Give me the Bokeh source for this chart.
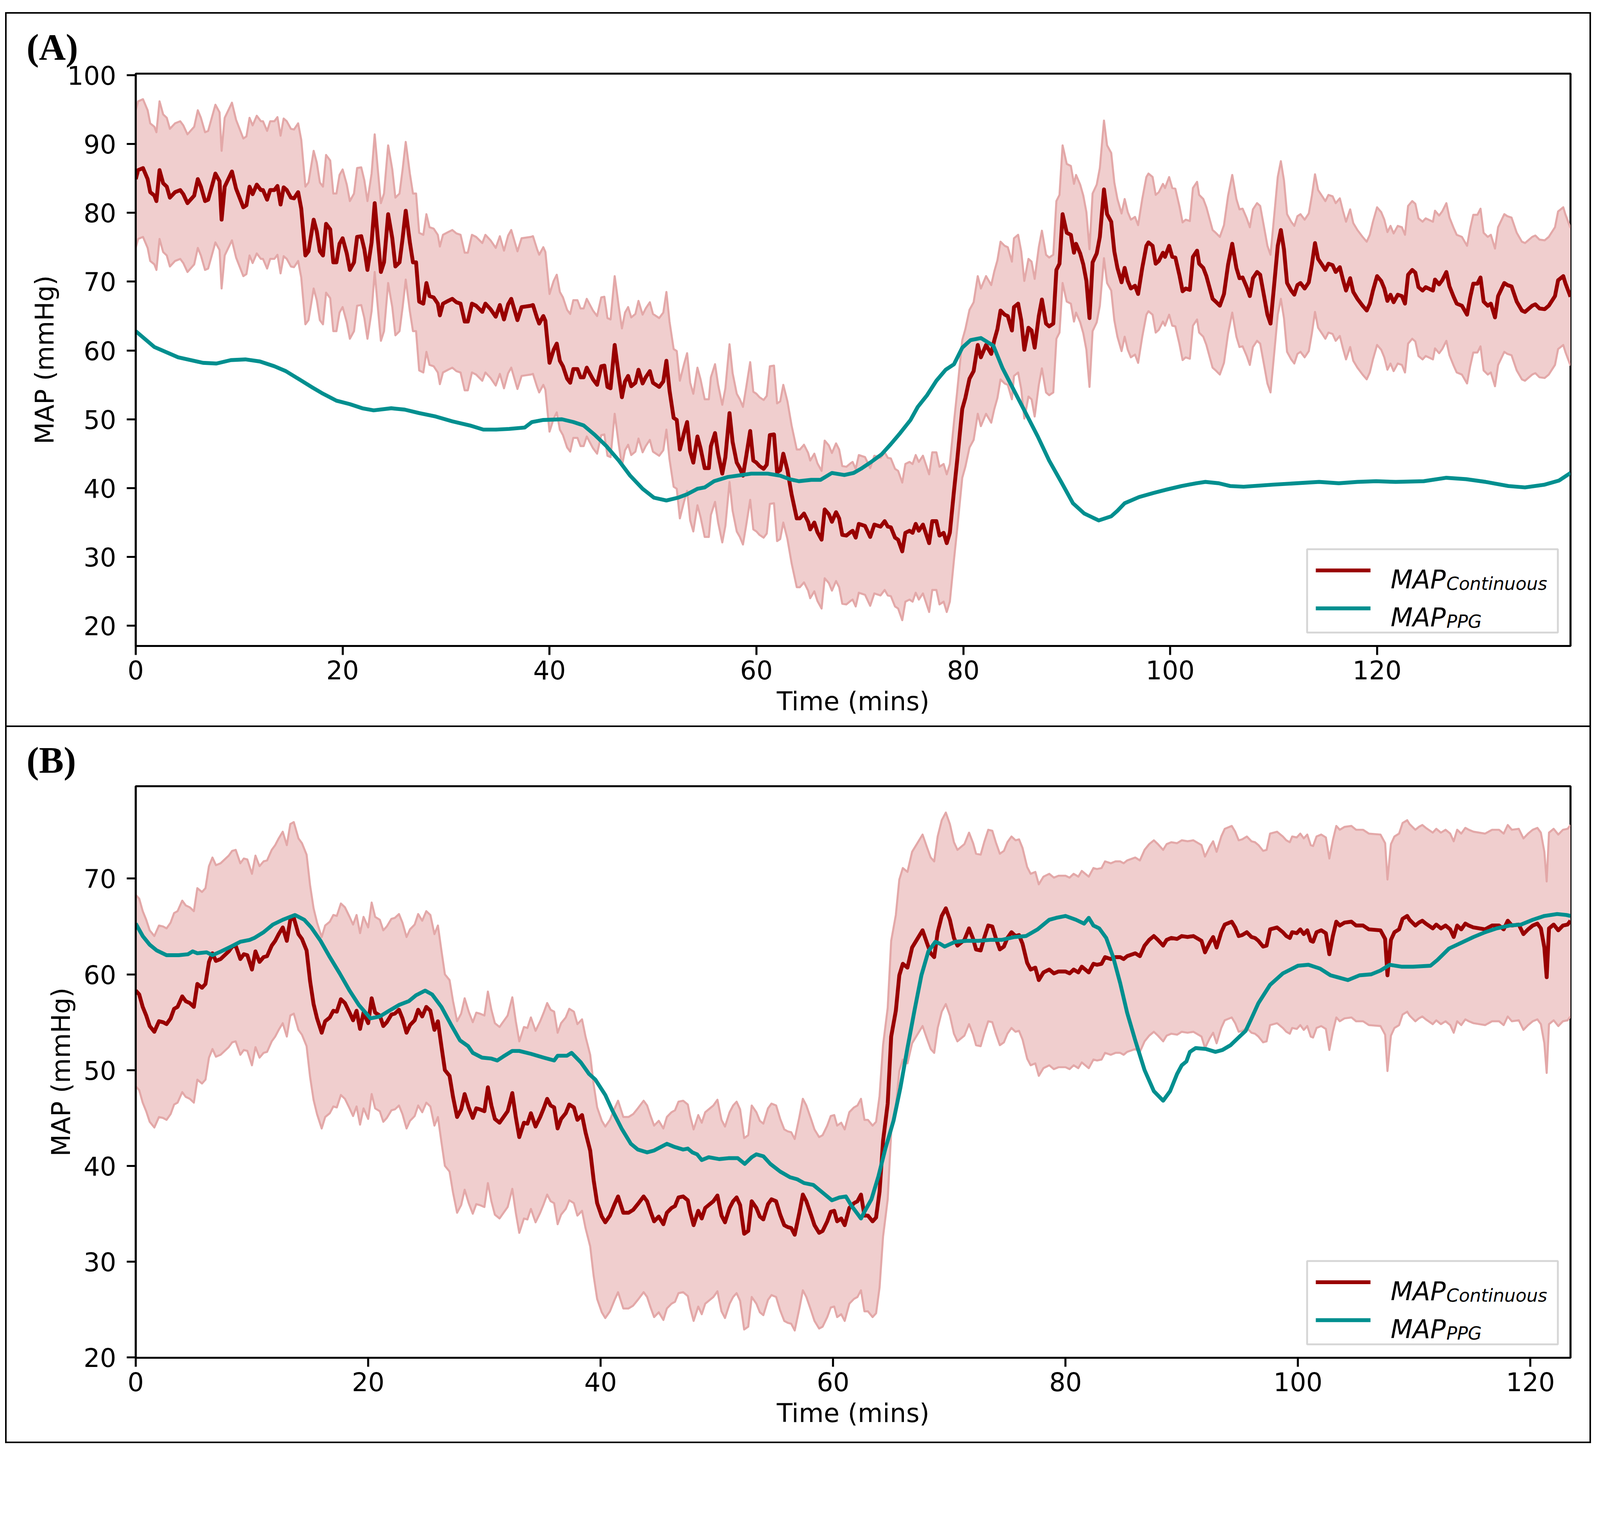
import numpy as np
from bokeh.plotting import figure
from bokeh.models import Range1d, FixedTicker, Div
from bokeh.core.properties import value
from bokeh.layouts import column
from bokeh.embed import file_html
from bokeh.resources import INLINE

# ---------------- data ----------------
# Panel A: continuous MAP
a_cont_t = [0, 0.23, 0.7, 1.15, 1.4, 1.8, 2.0, 2.3, 2.65, 3.0, 3.3, 3.8, 4.3, 4.6, 5.0, 5.65, 6.0, 6.3, 6.7, 7.0,
            7.7, 8.1, 8.3, 8.6, 9.3, 9.7, 10.4, 10.7, 11.0, 11.3, 11.7, 12.1, 12.3, 12.7, 13.0, 13.4, 13.7, 14.0,
            14.3, 14.6, 15.0, 15.3, 15.7, 16.0, 16.4, 16.7, 17.2, 17.5, 17.8, 18.1, 18.4, 18.8, 19.1, 19.4, 19.7,
            20.0, 20.4, 20.7, 21.1, 21.4, 21.8, 22.1, 22.4, 22.8, 23.1, 23.4, 23.7, 24.0, 24.4, 24.8, 25.1, 25.5,
            25.8, 26.1, 26.5, 26.8, 27.1, 27.4, 27.8, 28.1, 28.4, 28.8, 29.2, 29.4, 29.7, 30.2, 30.6, 31.0, 31.4,
            31.8, 32.1, 32.5, 32.9, 33.5, 33.8, 34.3, 34.8, 35.2, 35.6, 36.0, 36.3, 36.9, 37.3, 38.2, 38.4, 38.8,
            39.0, 39.4, 39.6, 40.0, 40.4, 40.7, 41.0, 41.3, 41.7, 42.0, 42.3, 42.7, 43.0, 43.3, 43.6, 44.2, 44.6,
            45.0, 45.3, 45.6, 45.9, 46.3, 46.7, 47.0, 47.3, 47.6, 47.9, 48.3, 48.6, 49.0, 49.3, 49.7, 50.0, 50.6,
            51.0, 51.3, 51.6, 52.0, 52.3, 52.6, 53.0, 53.3, 53.6, 53.9, 54.3, 54.6, 55.0, 55.4, 55.6, 56.0, 56.3,
            56.7, 57.0, 57.4, 57.7, 58.1, 58.4, 58.7, 59.0, 59.4, 59.7, 60.0, 60.3, 60.7, 61.0, 61.3, 61.7, 62.0,
            62.3, 62.6, 63.0, 63.4, 63.9, 64.2, 64.6, 65.0, 65.2, 65.6, 65.9, 66.3, 66.6, 67.0, 67.3, 67.7, 68.0,
            68.3, 68.7, 69.1, 69.3, 69.6, 69.9, 70.1, 70.5, 71.0, 71.4, 72.0, 72.4, 72.7, 73.0, 73.4, 73.7, 74.1,
            74.4, 74.8, 75.1, 75.4, 75.7, 76.1, 76.7, 77.0, 77.4, 77.7, 78.1, 78.4, 78.7, 79.1, 79.4, 79.9, 80.2,
            80.6, 81.0, 81.4, 81.7, 82.2, 82.7, 83.0, 83.3, 83.6, 84.0, 84.3, 84.7, 84.9, 85.3, 85.6, 85.9, 86.3,
            86.6, 86.9, 87.3, 87.6, 88.0, 88.3, 88.7, 89.0, 89.3, 89.6, 90.0, 90.4, 90.7, 90.9, 91.3, 91.6, 91.9,
            92.2, 92.5, 92.9, 93.2, 93.6, 93.9, 94.3, 94.6, 94.9, 95.3, 95.6, 95.9, 96.2, 96.6, 96.9, 97.3, 97.7,
            97.9, 98.3, 98.6, 98.9, 99.3, 99.5, 99.9, 100.2, 100.5, 100.9, 101.2, 101.5, 101.9, 102.2, 102.6,
            102.8, 103.2, 103.5, 104.1, 104.4, 104.8, 105.2, 105.6, 106.0, 106.4, 106.7, 107.0, 107.4, 107.7,
            108.0, 108.4, 108.7, 109.1, 109.4, 109.7, 110.1, 110.4, 110.7, 111.0, 111.3, 111.7, 112.0, 112.3,
            112.6, 113.0, 113.4, 113.7, 114.0, 114.3, 114.7, 115.0, 115.3, 115.7, 116.0, 116.4, 116.7, 117.0,
            117.4, 117.7, 118.1, 118.6, 119.0, 119.3, 119.6, 120.0, 120.4, 120.7, 121.0, 121.3, 121.6, 122.0,
            122.4, 122.7, 123.0, 123.4, 123.7, 124.0, 124.4, 124.7, 125.4, 125.6, 126.0, 126.3, 126.7, 127.0,
            127.4, 127.7, 128.2, 128.7, 129.0, 129.3, 129.7, 130.0, 130.3, 130.7, 131.0, 131.4, 131.7, 132.3,
            132.6, 133.0, 133.5, 134.0, 134.3, 135.0, 135.3, 135.7, 136.2, 136.6, 137.2, 137.5, 138.0, 138.2, 138.7]
a_cont_map = [84.9, 86.2, 86.5, 84.9, 83.0, 82.5, 81.7, 86.2, 84.3, 83.8, 82.2, 83.0, 83.3, 82.7, 81.4, 82.5, 84.9,
              83.8, 81.7, 81.9, 85.7, 84.6, 79.0, 83.8, 86.0, 83.5, 80.8, 81.1, 83.8, 82.7, 84.1, 83.3, 83.3, 81.9,
              83.3, 83.3, 83.9, 81.2, 83.7, 83.3, 82.2, 82.1, 83.0, 80.6, 73.8, 74.4, 79.0, 77.3, 74.4, 73.8, 78.4,
              77.6, 72.8, 72.8, 75.5, 76.3, 74.1, 71.7, 72.8, 76.5, 76.6, 74.7, 71.7, 75.7, 81.4, 76.3, 71.4, 72.8,
              79.8, 76.3, 72.2, 72.8, 76.3, 80.3, 75.7, 72.8, 72.8, 67.1, 66.8, 69.8, 67.9, 67.7, 66.8, 65.1, 66.8,
              67.2, 67.5, 67.0, 66.8, 64.2, 64.2, 66.8, 66.5, 65.6, 66.8, 66.0, 64.9, 66.6, 64.5, 66.7, 67.5, 64.4,
              66.3, 66.5, 66.6, 64.7, 63.9, 65.0, 64.3, 58.2, 60.1, 61.0, 58.5, 57.7, 55.9, 55.3, 57.3, 57.3, 56.1,
              56.1, 57.5, 55.8, 55.0, 57.7, 57.8, 54.7, 54.5, 60.8, 56.3, 53.2, 55.5, 56.3, 54.8, 55.3, 57.2, 55.2,
              56.1, 57.0, 55.3, 54.7, 55.5, 58.5, 54.2, 50.2, 49.9, 45.6, 48.0, 49.6, 45.3, 43.7, 47.5, 45.8, 42.9,
              42.9, 46.1, 48.0, 45.0, 42.1, 44.5, 50.9, 46.7, 43.7, 42.9, 41.8, 44.5, 48.3, 44.0, 43.7, 43.2, 42.8,
              43.4, 47.7, 47.8, 42.3, 42.6, 45.0, 42.6, 39.1, 35.6, 35.6, 36.3, 35.1, 34.0, 35.0, 33.6, 32.5, 36.9,
              36.2, 35.1, 36.5, 35.6, 33.2, 33.1, 33.6, 33.8, 32.8, 34.8, 34.7, 34.5, 32.9, 34.7, 34.4, 35.2, 34.4,
              34.3, 32.8, 32.5, 30.8, 33.5, 33.8, 33.5, 34.8, 33.8, 34.7, 32.0, 35.2, 35.2, 33.1, 33.5, 32.0, 33.5,
              39.6, 43.9, 51.5, 53.1, 55.9, 57.0, 60.8, 59.0, 60.8, 59.5, 61.5, 63.1, 65.8, 65.2, 65.0, 62.9, 66.3,
              66.8, 64.4, 60.1, 63.3, 62.9, 60.4, 65.0, 67.4, 63.9, 63.5, 63.9, 71.7, 72.6, 79.8, 77.1, 76.8, 74.2,
              75.5, 74.1, 72.5, 70.1, 64.7, 72.8, 74.1, 76.5, 83.4, 79.8, 78.7, 74.4, 72.0, 69.9, 72.0, 70.1, 69.0,
              69.4, 68.2, 72.0, 75.2, 75.7, 75.2, 72.6, 73.0, 74.2, 73.6, 75.2, 73.6, 73.5, 70.9, 68.6, 69.0, 68.8,
              73.6, 74.5, 72.6, 72.0, 70.8, 67.5, 67.1, 66.5, 68.2, 72.5, 75.5, 72.0, 70.5, 70.6, 69.2, 67.9, 70.5,
              71.4, 71.0, 67.7, 65.2, 63.9, 70.3, 75.2, 77.5, 74.7, 69.8, 68.7, 68.1, 69.5, 69.8, 69.0, 69.9, 72.5,
              75.6, 73.3, 72.4, 71.7, 72.6, 72.4, 71.4, 72.1, 70.3, 68.7, 70.5, 68.5, 67.5, 66.5, 65.8, 66.8, 68.7,
              70.8, 70.1, 69.0, 67.2, 68.1, 67.0, 68.1, 67.9, 66.8, 71.0, 71.7, 71.3, 69.2, 68.7, 69.2, 68.7, 70.3,
              69.6, 70.2, 71.4, 69.3, 67.8, 66.8, 66.5, 65.2, 67.7, 69.7, 69.7, 70.6, 67.1, 66.5, 66.8, 64.8, 67.9,
              69.8, 69.5, 69.3, 67.1, 65.8, 65.6, 66.5, 66.7, 66.1, 66.0, 66.5, 67.9, 70.2, 70.8, 69.8, 67.8]

# Panel A: PPG-derived MAP
a_ppg_t = [0, 1.8, 4.1, 6.5, 7.8, 9.2, 10.6, 12.0, 13.4, 14.5, 15.7, 17.1, 18.0, 19.4, 20.7, 21.9, 23.0, 24.7,
           26.0, 27.4, 29.0, 30.6, 32.3, 33.6, 34.8, 36.1, 37.6, 38.3, 39.4, 41.2, 42.3, 43.3, 44.4, 45.5, 46.7,
           47.8, 49.0, 50.1, 51.3, 52.4, 53.3, 54.3, 55.0, 55.9, 57.2, 58.6, 59.5, 61.1, 62.3, 63.2, 64.1, 65.3,
           66.2, 67.3, 68.5, 69.4, 70.1, 71.0, 72.1, 73.0, 73.9, 74.9, 75.6, 76.5, 77.4, 78.3, 79.1, 79.9, 80.7,
           81.7, 82.9, 83.8, 84.9, 86.0, 87.2, 88.3, 89.5, 90.6, 91.7, 93.1, 94.3, 94.9, 95.6, 97.0, 98.4, 99.7,
           101.1, 102.5, 103.4, 104.7, 105.8, 107.1, 109.9, 112.2, 114.4, 116.3, 118.1, 119.9, 121.8, 124.5,
           126.7, 128.6, 130.5, 132.7, 134.3, 136.2, 137.6, 138.7]
a_ppg_map = [62.8, 60.5, 59.0, 58.2, 58.1, 58.6, 58.7, 58.4, 57.7, 57.0, 55.9, 54.6, 53.8, 52.7, 52.2, 51.6, 51.3,
             51.6, 51.4, 50.9, 50.4, 49.7, 49.1, 48.5, 48.5, 48.6, 48.8, 49.6, 49.9, 50.0, 49.6, 49.1, 47.7, 46.1,
             44.0, 41.8, 39.9, 38.6, 38.2, 38.6, 39.1, 39.9, 40.1, 41.0, 41.6, 41.9, 42.1, 42.1, 41.8, 41.3, 41.0,
             41.2, 41.2, 42.2, 41.9, 42.2, 42.8, 43.7, 44.9, 46.4, 48.0, 49.9, 51.8, 53.5, 55.6, 57.2, 58.0, 60.4,
             61.5, 61.8, 60.7, 57.4, 54.2, 51.0, 47.5, 44.0, 40.8, 37.8, 36.3, 35.3, 35.9, 36.7, 37.8, 38.7, 39.3,
             39.8, 40.3, 40.7, 40.9, 40.7, 40.3, 40.2, 40.5, 40.7, 40.9, 40.7, 40.9, 41.0, 40.9, 41.0, 41.5, 41.3,
             40.9, 40.3, 40.1, 40.5, 41.1, 42.2]

# Panel B: continuous MAP
b_cont_t = [0, 0.3, 0.6, 0.9, 1.2, 1.6, 2.0, 2.35, 2.65, 3.0, 3.3, 3.6, 4.0, 4.3, 4.65, 5.0, 5.3, 5.7, 6.0, 6.3,
            6.6, 6.9, 7.3, 7.65, 8.0, 8.3, 8.6, 9.0, 9.3, 9.6, 10.0, 10.3, 10.65, 11.0, 11.3, 11.7, 12.0, 12.3,
            12.65, 13.0, 13.3, 13.6, 14.0, 14.3, 14.7, 15.0, 15.3, 15.6, 16.0, 16.3, 16.7, 17.0, 17.3, 17.65, 18.0,
            18.4, 18.7, 19.0, 19.3, 19.6, 20.0, 20.3, 20.6, 21.0, 21.3, 21.6, 22.0, 22.3, 22.65, 22.95, 23.3, 23.6,
            24.0, 24.3, 24.65, 25.0, 25.35, 25.7, 26.0, 26.3, 26.6, 27.0, 27.3, 27.65, 28.0, 28.3, 28.65, 29.0,
            29.3, 29.6, 30.0, 30.3, 30.6, 30.9, 31.3, 32.0, 32.4, 32.7, 33.0, 33.4, 33.7, 34.0, 34.4, 34.8, 35.1,
            35.4, 35.7, 36.0, 36.3, 36.6, 37.0, 37.3, 37.7, 38.0, 38.4, 38.7, 39.1, 39.4, 39.7, 40.1, 40.4, 40.8,
            41.2, 41.5, 41.95, 42.4, 42.8, 43.2, 43.7, 44.0, 44.3, 44.6, 45.0, 45.4, 45.7, 46.1, 46.4, 46.7, 47.1,
            47.5, 47.7, 48.0, 48.4, 48.7, 49.0, 49.4, 49.7, 50.05, 50.4, 50.7, 51.1, 51.4, 51.7, 52.0, 52.35, 52.7,
            53.0, 53.4, 53.7, 54.0, 54.4, 54.7, 55.1, 55.45, 55.8, 56.1, 56.4, 56.7, 57.1, 57.4, 57.7, 58.1, 58.4,
            58.8, 59.1, 59.5, 59.8, 60.1, 60.35, 60.7, 61.0, 61.4, 61.8, 62.1, 62.4, 62.7, 63.0, 63.4, 63.7, 64.0,
            64.3, 64.7, 65.0, 65.4, 65.7, 66.0, 66.4, 66.8, 67.3, 67.7, 68.1, 68.4, 68.7, 69.0, 69.35, 69.7, 70.05,
            70.4, 70.7, 71.3, 71.7, 72.05, 72.3, 72.7, 73.0, 73.35, 73.7, 74.0, 74.35, 74.7, 75.0, 75.35, 75.7,
            76.0, 76.3, 76.7, 77.0, 77.4, 77.7, 78.1, 78.6, 79.0, 79.4, 80.0, 80.35, 80.7, 81.1, 81.4, 82.0, 82.4,
            82.7, 83.1, 83.4, 83.9, 84.3, 84.7, 85.0, 85.3, 86.0, 86.4, 86.8, 87.2, 87.6, 87.95, 88.4, 88.7, 89.1,
            89.6, 90.0, 90.5, 91.0, 91.7, 92.0, 92.4, 92.7, 93.0, 93.4, 93.7, 94.3, 94.6, 94.9, 95.2, 95.6, 96.0,
            96.3, 96.6, 97.0, 97.3, 97.6, 98.2, 98.7, 99.0, 99.3, 99.5, 99.9, 100.2, 100.5, 100.8, 101.1, 101.3,
            101.6, 102.0, 102.4, 102.7, 103.0, 103.3, 103.6, 104.0, 104.6, 105.0, 105.6, 106.1, 107.1, 107.5,
            107.7, 108.0, 108.3, 108.7, 109.0, 109.4, 109.6, 110.1, 110.4, 110.7, 111.0, 111.6, 111.9, 112.3,
            112.7, 113.1, 113.4, 113.7, 114.05, 114.4, 114.7, 115.1, 115.6, 116.1, 116.7, 117.3, 117.7, 118.05,
            118.4, 119.0, 119.4, 119.8, 120.2, 120.6, 120.9, 121.2, 121.4, 121.6, 122.0, 122.4, 122.8, 123.2, 123.45]
b_cont_map = [58.3, 57.9, 56.6, 55.7, 54.6, 54.0, 55.1, 55.0, 54.8, 55.4, 56.4, 56.6, 57.7, 57.2, 57.0, 56.6, 59.0,
              58.6, 59.0, 61.3, 62.2, 61.4, 61.6, 62.0, 62.4, 62.9, 63.0, 61.6, 62.1, 62.0, 60.5, 62.4, 61.3, 61.8,
              61.9, 63.0, 63.5, 64.2, 64.9, 63.5, 65.7, 65.9, 64.2, 63.7, 62.5, 59.3, 56.9, 55.4, 53.9, 55.1, 55.5,
              56.2, 56.1, 57.4, 57.0, 56.0, 55.2, 56.2, 54.3, 56.0, 54.9, 57.5, 56.0, 55.7, 54.6, 55.0, 55.8, 55.9,
              56.3, 55.4, 53.9, 54.7, 55.2, 56.3, 55.6, 56.6, 56.2, 54.2, 55.1, 52.5, 50.0, 49.4, 47.2, 45.1, 45.9,
              47.5, 46.1, 45.0, 46.0, 45.9, 45.7, 48.2, 46.3, 44.9, 44.5, 45.7, 47.6, 45.1, 43.0, 44.5, 44.4, 45.5,
              44.1, 45.1, 46.0, 47.0, 46.3, 46.1, 43.9, 44.9, 45.5, 46.4, 46.1, 44.8, 45.3, 43.5, 41.6, 38.5, 36.1,
              34.7, 34.1, 34.8, 36.0, 36.8, 35.1, 35.1, 35.4, 36.0, 36.8, 36.3, 35.2, 34.2, 34.7, 33.9, 35.1, 35.6,
              35.8, 36.7, 36.8, 36.4, 35.2, 33.8, 35.3, 34.5, 35.6, 36.0, 36.3, 36.9, 34.8, 34.1, 35.6, 36.3, 36.7,
              35.9, 32.9, 33.2, 36.3, 35.6, 34.7, 34.4, 36.0, 36.5, 36.3, 34.9, 33.8, 33.6, 33.5, 32.8, 35.1, 37.0,
              36.3, 34.9, 33.8, 33.0, 33.2, 34.2, 35.2, 35.3, 34.2, 34.5, 33.8, 35.6, 36.1, 36.3, 37.0, 34.8, 34.8,
              34.2, 34.6, 37.3, 42.6, 46.5, 53.5, 56.2, 59.9, 61.1, 60.7, 62.8, 63.8, 64.6, 63.2, 62.2, 61.8, 64.4,
              66.1, 66.9, 65.7, 63.8, 63.0, 63.6, 64.8, 63.7, 62.6, 62.5, 63.8, 65.1, 65.0, 63.8, 62.6, 62.9, 63.8,
              64.4, 64.0, 64.1, 63.2, 61.2, 60.5, 60.7, 59.4, 60.2, 60.5, 60.1, 60.3, 60.3, 60.1, 60.5, 60.2, 60.8,
              60.2, 61.1, 61.0, 61.1, 61.8, 61.6, 61.8, 61.8, 61.6, 61.9, 62.2, 61.9, 63.0, 63.6, 64.0, 63.6, 63.0,
              63.6, 63.8, 63.7, 64.0, 63.9, 64.0, 63.5, 62.3, 63.3, 63.9, 62.8, 64.4, 65.2, 65.5, 64.9, 64.0, 64.1,
              64.4, 63.9, 63.8, 63.5, 62.9, 63.0, 64.7, 64.9, 64.4, 64.0, 63.8, 64.4, 64.3, 64.7, 64.2, 64.6, 63.5,
              63.4, 64.4, 64.6, 64.3, 62.1, 64.0, 65.5, 65.1, 65.4, 65.5, 65.1, 65.1, 64.7, 64.6, 63.7, 59.9, 63.6,
              64.4, 64.7, 65.8, 66.1, 65.7, 65.1, 65.4, 65.6, 65.3, 64.8, 65.2, 64.8, 65.1, 64.7, 63.9, 65.1, 64.7,
              65.3, 65.1, 64.9, 64.8, 64.7, 65.1, 65.1, 64.7, 65.6, 65.1, 65.2, 64.2, 64.7, 65.1, 65.3, 64.8, 62.8,
              59.7, 64.8, 65.2, 64.6, 65.1, 65.2, 65.6]

# Panel B: PPG-derived MAP
b_ppg_t = [0, 0.6, 1.2, 1.8, 2.65, 3.7, 4.5, 4.9, 5.3, 6.1, 6.6, 7.35, 8.2, 9.0, 9.8, 10.2, 11.0, 11.8, 12.65,
           13.7, 14.5, 15.1, 15.9, 16.7, 17.55, 18.4, 19.2, 20.2, 21.0, 21.8, 22.65, 23.5, 24.1, 24.9, 25.5, 26.3,
           27.1, 27.9, 28.6, 29.0, 29.8, 30.6, 31.1, 31.6, 32.4, 33.0, 34.0, 35.1, 36.0, 36.3, 37.1, 37.5, 38.3,
           39.0, 39.55, 40.4, 41.0, 41.8, 42.6, 43.2, 44.0, 44.6, 45.7, 46.3, 47.1, 47.5, 47.9, 48.3, 48.7, 49.3,
           50.2, 51.0, 51.8, 52.4, 53.0, 53.4, 54.0, 54.6, 55.45, 56.3, 56.9, 57.5, 58.3, 59.1, 59.9, 60.55, 61.1,
           61.6, 62.4, 62.7, 63.3, 63.9, 64.5, 65.2, 65.8, 66.4, 67.0, 67.6, 68.2, 68.8, 69.2, 69.6, 70.5, 71.5,
           72.5, 73.5, 74.5, 75.6, 76.6, 77.6, 78.6, 79.2, 80.0, 80.9, 81.6, 82.0, 82.4, 82.9, 83.5, 84.1, 84.7,
           85.3, 86.0, 86.8, 87.6, 88.4, 89.0, 89.6, 90.0, 90.4, 90.7, 91.2, 92.1, 92.9, 93.5, 94.2, 94.8, 95.5,
           96.0, 96.6, 97.6, 98.7, 100.0, 100.9, 101.9, 102.8, 103.4, 104.3, 105.3, 106.3, 107.1, 107.9, 108.9,
           109.9, 111.4, 112.0, 113.0, 114.05, 115.1, 116.1, 117.1, 118.2, 119.2, 120.2, 121.2, 122.3, 123.1, 123.45]
b_ppg_map = [65.3, 64.0, 63.1, 62.5, 62.0, 62.0, 62.1, 62.4, 62.2, 62.3, 62.0, 62.4, 62.9, 63.4, 63.6, 63.8, 64.4,
             65.2, 65.7, 66.2, 65.7, 64.9, 63.5, 61.8, 60.1, 58.3, 56.8, 55.4, 55.6, 56.2, 56.8, 57.2, 57.8, 58.3,
             57.9, 56.6, 54.8, 53.1, 52.5, 51.8, 51.3, 51.2, 51.0, 51.4, 52.0, 52.0, 51.7, 51.3, 51.0, 51.5, 51.5,
             51.8, 50.8, 49.6, 49.0, 47.4, 45.8, 43.9, 42.3, 41.7, 41.4, 41.6, 42.3, 42.0, 41.7, 41.8, 41.4, 41.2,
             40.6, 40.9, 40.7, 40.8, 40.8, 40.2, 40.9, 41.2, 41.0, 40.2, 39.4, 38.8, 38.6, 38.2, 38.0, 37.2, 36.4,
             36.7, 36.8, 35.8, 34.5, 35.2, 36.5, 38.9, 41.8, 44.7, 48.2, 52.3, 56.2, 59.9, 62.4, 63.4, 63.2, 62.9,
             63.4, 63.5, 63.5, 63.6, 63.6, 63.9, 64.0, 64.7, 65.7, 65.9, 66.1, 65.7, 65.3, 65.9, 65.1, 64.8, 63.8,
             61.8, 59.1, 56.0, 53.1, 50.0, 47.8, 46.8, 47.8, 49.6, 50.5, 50.9, 51.9, 52.3, 52.2, 51.9, 52.1, 52.6,
             53.3, 54.1, 55.4, 57.0, 58.9, 60.1, 60.9, 61.0, 60.6, 59.9, 59.7, 59.4, 59.9, 60.0, 60.4, 61.0, 60.8,
             60.8, 60.9, 61.5, 62.7, 63.3, 63.9, 64.4, 64.8, 65.1, 65.2, 65.7, 66.1, 66.3, 66.2, 66.1]

band_half_width = 10.0  # mmHg, shaded tolerance around the continuous MAP

x_ticks = [0, 20, 40, 60, 80, 100, 120]
a_y_ticks = [20, 30, 40, 50, 60, 70, 80, 90, 100]
b_y_ticks = [20, 30, 40, 50, 60, 70]
legend_main = "MAP"
legend_subs = ["Continuous", "PPG"]
panel_tags = ["(A)", "(B)"]
x_label = "Time (mins)"
y_label = "MAP (mmHg)"

# ---------------- styling ----------------
K = 1 / 1.05          # page px per screenshot px
def S(v):
    return v * K

RED = "#990000"
TEAL = "#008F8F"
BAND_FILL = "#F0CECE"
BAND_EDGE = "#E3A8A8"
FONT = "DejaVu Sans"
FS = "%.1fpx" % S(69)
SUB_FS = "%.1fpx" % S(48)
LW = S(10.4)
SPINE = S(5.5)

FIG_W = 4042
ML, MR = 330, 39
FRAME_W = FIG_W - ML - MR
MBT = 40     # frame offset inside the figure (tag row sits above, overlapping by MBT)


def make_panel(tag, ct, cv, pt, pv, xr, yr, yticks, tag_h, fig_h, mb_bottom, borders, tag_pad_top):
    frame_h = fig_h - MBT - mb_bottom
    p = figure(width=FIG_W, height=fig_h, title=None,
               x_range=Range1d(start=xr[0], end=xr[1]), y_range=Range1d(start=yr[0], end=yr[1]),
               output_backend="svg", toolbar_location=None,
               min_border_left=ML, min_border_right=MR,
               min_border_top=MBT, min_border_bottom=mb_bottom,
               background_fill_color="white", border_fill_color="white", border_fill_alpha=0.0)
    p.grid.visible = False
    p.outline_line_color = "black"
    p.outline_line_width = SPINE

    ct = np.asarray(ct)
    cv = np.asarray(cv)
    upper = cv + band_half_width
    lower = cv - band_half_width
    p.varea(x=ct, y1=lower, y2=upper, fill_color=BAND_FILL, fill_alpha=1.0)
    p.line(ct, upper, line_color=BAND_EDGE, line_width=S(5.5), line_join="round")
    p.line(ct, lower, line_color=BAND_EDGE, line_width=S(5.5), line_join="round")
    p.line(ct, cv, line_color=RED, line_width=LW, line_join="round")
    p.line(pt, pv, line_color=TEAL, line_width=LW, line_join="round")

    for ax in (p.xaxis[0], p.yaxis[0]):
        ax.axis_line_width = SPINE
        ax.axis_line_color = "black"
        ax.major_tick_line_width = SPINE
        ax.major_tick_out = round(S(24))
        ax.major_tick_in = 0
        ax.minor_tick_out = 0
        ax.minor_tick_in = 0
        ax.major_label_text_font = FONT
        ax.major_label_text_font_size = FS
        ax.major_label_text_color = "black"
        ax.axis_label_text_font = FONT
        ax.axis_label_text_font_size = FS
        ax.axis_label_text_font_style = "normal"
        ax.axis_label_text_color = "black"
    p.xaxis.ticker = FixedTicker(ticks=x_ticks)
    p.yaxis.ticker = FixedTicker(ticks=yticks)
    p.xaxis.axis_label = x_label
    p.yaxis.axis_label = y_label
    p.xaxis.major_label_standoff = 13
    p.xaxis.axis_label_standoff = 15
    p.yaxis.major_label_standoff = 27
    p.yaxis.axis_label_standoff = 17

    # legend, drawn with glyphs; frame-pixel offsets converted to data units
    sx = (xr[1] - xr[0]) / FRAME_W
    sy = (yr[1] - yr[0]) / frame_h
    X = lambda px: xr[0] + S(px) * sx
    Y = lambda py: yr[0] + S(py) * sy
    fw = FRAME_W / K
    p.quad(left=[X(fw - 708)], right=[X(fw - 34)], bottom=[Y(36)], top=[Y(260)],
           fill_color="white", fill_alpha=0.8, line_color="#cccccc", line_alpha=0.8, line_width=S(5))
    rows = [(203, RED, legend_subs[0]), (101, TEAL, legend_subs[1])]
    for ry, col, sub in rows:
        p.segment(x0=[X(3172)], y0=[Y(ry)], x1=[X(3319)], y1=[Y(ry)], line_color=col, line_width=LW)
        p.text(x=[X(3373)], y=[Y(ry - 24)], text=[legend_main], text_font=value(FONT),
               text_font_style="italic", text_font_size=value(FS), text_baseline="alphabetic",
               text_align="left", text_color="black")
        p.text(x=[X(3523)], y=[Y(ry - 36)], text=[sub], text_font=value(FONT),
               text_font_style="italic", text_font_size=value(SUB_FS), text_baseline="alphabetic",
               text_align="left", text_color="black")
    p.styles = {"margin-top": "-%dpx" % MBT}

    tag_div = Div(
        text=('<div style="margin:0; padding:%dpx 0 0 46px; font-family:\'Liberation Serif\',serif; '
              'font-weight:bold; font-size:95px; line-height:95px; color:black; white-space:nowrap;">%s</div>'
              % (tag_pad_top, tag)),
        width=FIG_W, height=tag_h, styles={"overflow": "visible"})

    side = "4.8px solid black"
    st = {"background-color": "white"}
    for b in borders:
        st["border-" + b] = side
    return column(tag_div, p, styles=st)


panelA = make_panel(panel_tags[0], a_cont_t, a_cont_map, a_ppg_t, a_ppg_map,
                    (0, 138.7), (17.06, 100.22), a_y_ticks, 143, 1709, 204,
                    ["top", "left", "right", "bottom"], 34)
panelB = make_panel(panel_tags[1], b_cont_t, b_cont_map, b_ppg_t, b_ppg_map,
                    (0, 123.45), (19.95, 79.65), b_y_ticks, 141, 1718, 215,
                    ["left", "right", "bottom"], 33)

layout = column(panelA, panelB, margin=(31, 0, 0, 13))

with open("out.html", "w") as f:
    f.write(file_html(layout, INLINE))
